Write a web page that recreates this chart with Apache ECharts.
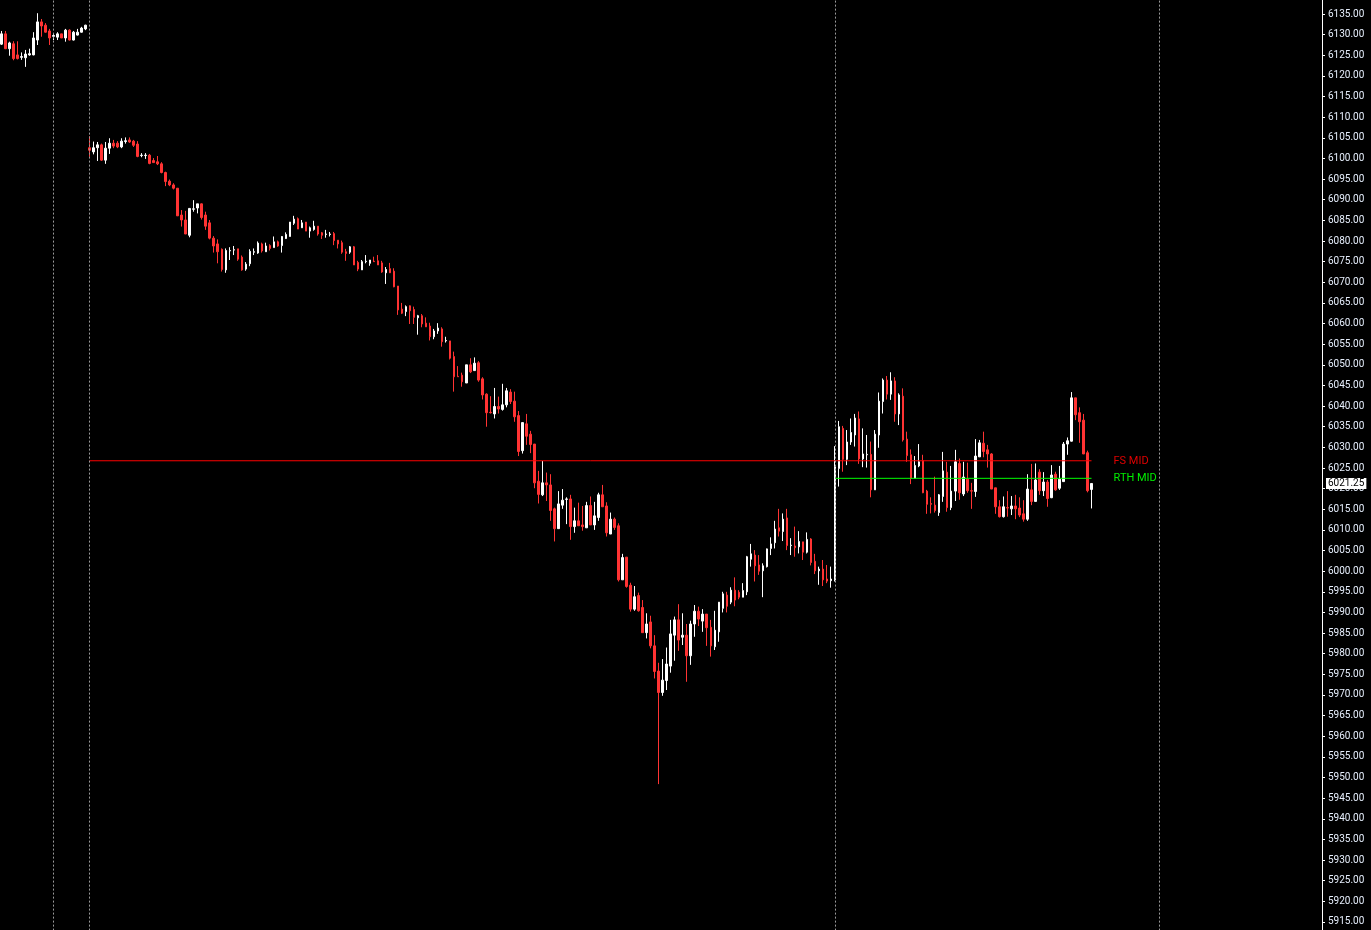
<!DOCTYPE html>
<html>
<head>
<meta charset="utf-8">
<script src="https://cdn.jsdelivr.net/npm/echarts@6/dist/echarts.min.js"></script>
<style>
html,body{margin:0;padding:0;background:#000;}
#chart{width:1371px;height:930px;}
</style>
</head>
<body>
<div id="chart"></div>
<script>
// ---- data ----
const opens = [6127.7,6130.2,6126.6,6127.8,6125.1,6124.5,6124.4,6125.1,6125.1,6128.7,6133.1,6132.3,6130.9,6129.6,6129.4,6130.2,6129.2,6131.1,6128.7,6129.9,6130.6,6131.4,
6102.6,6101.6,6102.6,6103.3,6099.6,6102.5,6103.7,6103.7,6102.8,6104.1,6104.5,6104.2,6103.5,6100.7,6100.7,6100.8,6099.5,6099.2,
6098.7,6096.6,6094.5,6093.6,6092.8,6086.3,6085.1,6081.4,6087.7,6088.0,6089.0,6086.3,6084.4,6080.7,6079.3,6078.0,6073.0,6077.6,6077.8,6078.1,
6076.1,6073.2,6074.5,6077.3,6077.1,6079.3,6077.4,6078.9,6078.4,6079.8,6078.9,6080.6,6081.1,6084.3,6085.4,6083.2,6084.6,6082.4,6082.8,6083.6,
6082.0,6081.6,6081.6,6081.8,6080.2,6079.6,6077.4,6077.3,6078.6,6074.8,6073.0,6075.0,6074.6,6075.1,6075.2,6074.7,6072.3,6073.3,6072.7,6069.1,
6063.5,6062.9,6064.3,6063.4,6061.4,6061.9,6060.1,6059.4,6056.8,6058.2,6058.7,6055.8,6055.8,6052.0,6047.2,6047.5,6045.6,6050.0,6048.6,6050.5,
6046.6,6042.9,6038.5,6038.1,6039.9,6039.2,6040.3,6043.4,6041.2,6037.7,6029.2,6035.7,6033.2,6030.8,6021.8,6018.5,6021.4,6020.9,6015.1,6010.3,
6016.0,6017.4,6017.5,6010.8,6012.2,6011.2,6010.5,6015.9,6011.2,6013.0,6018.5,6015.8,6009.0,6012.6,6011.0,5997.9,6003.4,5996.6,5990.8,5994.1,
5991.2,5985.1,5987.7,5981.9,5975.8,5970.6,5973.5,5977.0,5984.5,5988.2,5984.0,5984.5,5979.5,5987.2,5990.3,5987.9,5989.6,5986.4,5981.7,5985.3,
5991.0,5994.2,5992.5,5995.4,5994.9,5993.7,5995.0,6002.9,6003.9,6001.5,6000.1,6001.1,6005.5,6006.9,6010.5,6009.6,6012.9,6006.2,6006.1,6005.9,
6007.1,6004.6,6007.8,6002.4,6000.1,6000.5,5998.1,5997.7,5997.9,6024.9,6034.6,6027.1,6031.3,6033.0,6036.9,6027.2,6028.2,6028.3,6019.7,6033.0,
6041.1,6046.3,6042.9,6046.1,6038.1,6042.4,6032.0,6028.2,6022.5,6025.5,6026.8,6019.4,6016.4,6016.0,6014.2,6018.1,6024.0,6015.4,6019.4,6026.1,
6018.7,6022.3,6019.5,6019.3,6027.7,6031.0,6029.4,6028.4,6020.2,6015.6,6013.2,6015.4,6015.1,6015.8,6015.3,6013.9,6012.6,6019.7,6016.9,6024.0,
6019.5,6021.6,6017.8,6023.5,6020.1,6021.7,6030.8,6031.5,6042.0,6038.4,6036.6,6028.7,6019.8];
const closes = [6130.2,6126.6,6128.0,6124.2,6124.2,6124.7,6125.3,6125.4,6129.2,6133.1,6132.1,6130.6,6129.2,6129.8,6130.2,6129.2,6131.1,6128.7,6130.6,6130.6,6131.6,6132.3,
6102.0,6102.6,6103.3,6099.6,6102.5,6103.7,6103.0,6102.8,6104.2,6104.3,6104.0,6103.2,6100.5,6100.8,6100.8,6098.8,6099.0,6098.7,
6096.6,6094.4,6093.6,6092.8,6086.1,6085.1,6081.7,6087.9,6087.8,6089.0,6085.7,6083.6,6080.7,6078.8,6077.4,6073.1,6077.7,6077.7,6077.9,6075.6,
6073.0,6074.4,6077.5,6077.4,6079.5,6077.6,6078.8,6078.2,6079.8,6078.8,6081.1,6081.6,6084.6,6085.3,6082.9,6084.4,6082.4,6083.2,6083.6,6081.7,
6081.4,6081.7,6081.7,6080.1,6079.3,6077.3,6077.0,6078.6,6074.2,6073.2,6075.0,6075.1,6075.4,6075.0,6074.2,6072.5,6073.1,6072.3,6068.9,6063.3,
6062.5,6064.1,6063.1,6061.5,6061.9,6059.9,6059.2,6056.8,6058.2,6058.9,6055.6,6055.9,6051.6,6047.1,6047.1,6045.9,6050.0,6048.3,6050.4,6046.3,
6042.7,6038.4,6038.4,6039.9,6039.3,6040.3,6043.7,6041.1,6037.4,6029.0,6036.0,6032.7,6030.7,6021.4,6018.6,6021.4,6020.9,6014.7,6010.3,6016.3,
6017.2,6017.5,6010.8,6012.2,6011.0,6010.8,6015.9,6011.2,6013.4,6018.5,6015.6,6009.3,6012.6,6010.6,5997.9,6003.3,5996.3,5990.8,5993.8,5990.4,
5985.1,5987.2,5981.9,5975.7,5970.6,5973.6,5977.5,5984.8,5988.2,5983.3,5984.5,5979.5,5987.2,5990.3,5988.4,5989.6,5986.3,5981.9,5985.7,5992.5,
5994.5,5991.5,5995.4,5993.0,5993.7,5995.3,6003.5,6004.2,6001.3,6000.0,6001.3,6005.4,6006.6,6010.2,6009.7,6012.6,6006.2,6006.3,6005.7,6007.2,
6004.6,6007.7,6002.1,6000.1,6000.5,5997.9,5997.6,5998.1,6025.3,6035.0,6027.1,6031.3,6033.6,6037.1,6027.2,6028.4,6028.3,6019.7,6033.2,6041.2,
6046.3,6042.9,6046.1,6038.1,6042.7,6031.8,6028.0,6022.5,6025.6,6026.5,6019.0,6016.2,6016.2,6014.7,6018.5,6024.3,6015.4,6019.4,6026.5,6019.0,
6022.8,6019.5,6019.4,6027.9,6031.1,6029.0,6028.4,6019.9,6015.6,6013.2,6015.6,6015.3,6015.8,6015.1,6013.6,6012.6,6019.9,6016.9,6022.1,6019.5,
6021.6,6017.6,6023.3,6019.7,6022.3,6030.8,6031.6,6042.0,6037.9,6036.2,6028.4,6019.5,6021.25];
const lows = [6127.5,6126.5,6124.9,6123.8,6124.0,6123.9,6122.2,6124.9,6125.0,6127.5,6129.5,6130.5,6127.5,6128.7,6128.7,6129.2,6128.3,6128.6,6128.6,6129.8,6130.5,6131.1,
6100.4,6101.0,6099.4,6099.4,6098.7,6101.1,6102.5,6102.5,6102.5,6103.6,6103.8,6102.8,6100.3,6100.3,6099.9,6098.6,6099.0,6098.4,
6096.4,6093.3,6093.3,6092.5,6086.1,6083.5,6081.7,6080.9,6087.1,6086.7,6085.2,6082.7,6080.4,6077.2,6074.6,6072.6,6072.3,6075.4,6076.6,6075.2,
6072.8,6072.8,6073.9,6076.6,6076.9,6077.2,6077.4,6077.7,6078.4,6078.6,6077.2,6080.5,6081.1,6083.9,6082.9,6083.2,6082.4,6080.8,6082.5,6081.3,
6080.5,6080.8,6081.1,6079.0,6078.2,6076.9,6075.2,6076.9,6074.2,6072.7,6073.0,6074.6,6074.0,6074.9,6074.2,6072.3,6069.6,6072.3,6068.8,6062.1,
6062.3,6061.8,6059.9,6059.9,6057.3,6059.1,6059.2,6055.9,6056.2,6057.5,6054.4,6055.4,6051.3,6043.5,6047.1,6044.7,6045.6,6048.0,6048.6,6045.9,
6041.6,6035.0,6038.2,6037.0,6038.2,6038.9,6039.7,6040.5,6036.2,6027.9,6028.5,6030.6,6028.6,6020.1,6016.4,6018.2,6017.0,6012.2,6007.2,6010.3,
6015.1,6011.4,6007.6,6009.3,6011.0,6009.8,6010.5,6011.2,6010.0,6012.2,6015.6,6008.4,6009.0,6010.0,5997.5,5997.9,5996.0,5990.2,5990.4,5990.2,
5985.1,5983.7,5981.3,5974.0,5948.4,5969.8,5971.2,5975.4,5978.3,5980.7,5982.1,5973.2,5977.3,5984.1,5986.7,5985.3,5981.9,5979.3,5980.9,5982.9,
5990.0,5990.0,5992.0,5991.5,5993.2,5993.7,5994.2,6001.1,5997.5,5999.1,5993.7,6000.9,6003.9,6005.5,6008.4,6007.3,6005.1,6003.9,6003.5,6004.3,
6002.7,6004.3,6001.4,5999.3,5996.7,5996.4,5997.1,5996.0,5997.5,6020.5,6024.1,6025.7,6030.6,6030.2,6026.0,6025.2,6025.1,6017.9,6019.7,6029.9,
6038.2,6041.6,6041.5,6036.2,6035.4,6031.4,6026.5,6021.1,6022.5,6025.2,6018.9,6013.9,6014.0,6014.2,6013.4,6016.8,6014.4,6014.8,6017.0,6017.3,
6018.2,6019.0,6015.1,6018.0,6027.7,6027.6,6025.1,6019.9,6013.9,6013.0,6013.0,6013.2,6013.6,6012.6,6013.1,6012.0,6012.2,6016.0,6016.9,6018.5,
6018.2,6015.6,6017.7,6019.5,6019.7,6021.7,6028.2,6031.4,6036.6,6031.1,6028.4,6019.1,6015.2];
const highs = [6130.9,6130.9,6128.3,6128.4,6128.4,6125.7,6126.3,6126.6,6130.6,6135.2,6133.8,6132.8,6131.4,6130.3,6130.6,6130.2,6131.4,6131.3,6130.9,6131.4,6131.9,6132.4,
6105.4,6104.1,6104.0,6103.6,6104.0,6104.9,6104.5,6104.2,6104.9,6105.1,6105.1,6104.5,6104.2,6101.3,6101.3,6101.1,6100.1,6100.6,
6099.1,6096.8,6094.9,6094.0,6092.8,6087.5,6087.3,6088.0,6089.9,6089.0,6089.1,6087.1,6085.1,6081.2,6080.4,6078.2,6078.2,6078.5,6078.8,6078.1,
6076.5,6074.9,6078.0,6078.2,6079.9,6079.6,6079.6,6079.2,6081.1,6080.1,6081.2,6082.1,6084.6,6086.1,6085.7,6085.1,6084.6,6083.5,6084.9,6083.6,
6082.2,6082.7,6082.2,6082.2,6080.2,6080.1,6078.1,6078.8,6078.8,6075.2,6075.4,6076.6,6075.4,6076.2,6076.6,6075.2,6073.7,6074.7,6073.4,6069.1,
6065.0,6064.4,6064.4,6064.1,6062.1,6062.3,6061.5,6060.2,6058.7,6060.1,6059.1,6056.8,6055.8,6053.2,6049.7,6048.1,6050.0,6051.6,6051.8,6050.9,
6047.0,6043.1,6042.4,6044.4,6042.3,6045.4,6044.4,6044.1,6043.5,6038.8,6036.1,6038.1,6034.0,6030.8,6024.3,6026.7,6023.9,6023.5,6015.4,6019.4,
6019.9,6017.9,6018.5,6015.4,6016.6,6015.8,6016.8,6018.1,6016.8,6019.0,6020.9,6016.7,6014.2,6013.0,6011.6,6004.2,6003.4,5997.2,5996.4,5994.8,
5993.0,5989.8,5989.2,5984.5,5977.8,5978.7,5981.5,5988.2,5989.0,5992.0,5989.8,5987.2,5988.0,5991.8,5991.4,5990.8,5989.6,5988.2,5990.4,5992.5,
5995.0,5995.0,5996.1,5998.5,5995.4,5997.1,6003.7,6006.6,6005.1,6003.9,6001.9,6005.5,6008.2,6012.2,6015.1,6014.0,6015.1,6008.0,6010.8,6009.7,
6007.1,6009.4,6008.0,6004.2,6001.1,6002.7,6001.5,6001.1,6030.3,6036.4,6035.2,6034.2,6037.0,6038.1,6038.7,6034.6,6033.0,6031.4,6034.2,6043.3,
6046.7,6047.3,6048.2,6047.0,6043.1,6044.3,6033.8,6029.5,6027.9,6030.8,6028.2,6019.7,6017.9,6022.9,6018.7,6028.9,6026.5,6025.5,6029.4,6027.3,
6026.5,6026.3,6021.4,6032.0,6031.8,6033.8,6030.6,6028.6,6020.2,6017.2,6018.1,6019.4,6018.2,6018.5,6017.9,6017.2,6023.5,6026.0,6026.1,6024.7,
6024.0,6022.1,6025.7,6024.1,6025.5,6031.3,6032.4,6043.4,6042.0,6039.7,6038.1,6029.2,6021.3];

const SLOT_COUNT = 330;             // bar slots across the plot
const sessionBreaks = [13, 22, 208, 289];
const FS_MID = 6026.75;
const RTH_MID = 6022.5;
const LAST_PRICE = 6021.25;
const FS_START = 22, RTH_START = 208, LEVEL_END = 272;
const Y_MIN = 5910, Y_MAX = 6140, Y_STEP = 5;

const categories = [];
for (let i = 0; i < SLOT_COUNT; i++) categories.push(String(i));
const ohlc = opens.map((o, i) => [o, closes[i], lows[i], highs[i]]);

const RED = '#ff3333';
const chart = echarts.init(document.getElementById('chart'), null, {renderer: 'canvas'});

function levelSeries(name, value, start, lineColor, textColor) {
  return {
    name: name, type: 'line', silent: true, symbol: 'none', z: 3,
    color: lineColor,
    data: [[start, value], [LEVEL_END, value]],
    lineStyle: {color: lineColor, width: 1, type: 'solid'},
    itemStyle: {color: lineColor},
    emphasis: {disabled: true},
    endLabel: {show: true, formatter: name, color: textColor, distance: 22,
               fontSize: 11, fontFamily: 'Roboto'}
  };
}

chart.setOption({
  backgroundColor: '#000000',
  animation: false,
  grid: {left: -0.7, right: 49, top: -6.6, bottom: -12.6, containLabel: false, outerBoundsMode: 'none'},
  xAxis: {
    type: 'category', data: categories, boundaryGap: true,
    axisLine: {show: false}, axisTick: {show: false}, axisLabel: {show: false}, splitLine: {show: false}
  },
  yAxis: {
    type: 'value', position: 'right', min: Y_MIN, max: Y_MAX, interval: Y_STEP,
    axisLine: {show: true, lineStyle: {color: '#ffffff', width: 1}},
    axisTick: {show: true, length: 3, lineStyle: {color: '#ffffff'}},
    axisLabel: {color: '#e6eefc', fontSize: 10, fontFamily: 'Roboto', margin: 6,
                formatter: v => v.toFixed(2)},
    splitLine: {show: false}
  },
  series: [{
    type: 'candlestick',
    data: ohlc,
    barWidth: 2,
    large: false,
    z: 2,
    itemStyle: {color: '#ffffff', color0: RED, borderColor: '#ffffff', borderColor0: RED, borderWidth: 1},
    markLine: {
      silent: true, symbol: ['none', 'none'], animation: false,
      lineStyle: {color: '#9a9a9a', type: [2, 2], width: 1},
      label: {show: false},
      data: sessionBreaks.map(x => ({xAxis: x}))
    }
  },
  levelSeries('FS MID', FS_MID, FS_START, '#ff0000', '#e00000'),
  levelSeries('RTH MID', RTH_MID, RTH_START, '#00ff00', '#00ee00'),
  {
    name: 'last', type: 'line', data: [], silent: true,
    markLine: {
      silent: true, symbol: ['none', 'none'], animation: false,
      lineStyle: {color: 'rgba(0,0,0,0)', width: 1},
      label: {show: true, position: 'end', formatter: LAST_PRICE.toFixed(2), color: '#000000',
              backgroundColor: '#ffffff', padding: [1, 2, 0, 2], distance: 4,
              fontSize: 10, fontFamily: 'Roboto'},
      data: [{yAxis: LAST_PRICE}]
    }
  }]
});
</script>
</body>
</html>
